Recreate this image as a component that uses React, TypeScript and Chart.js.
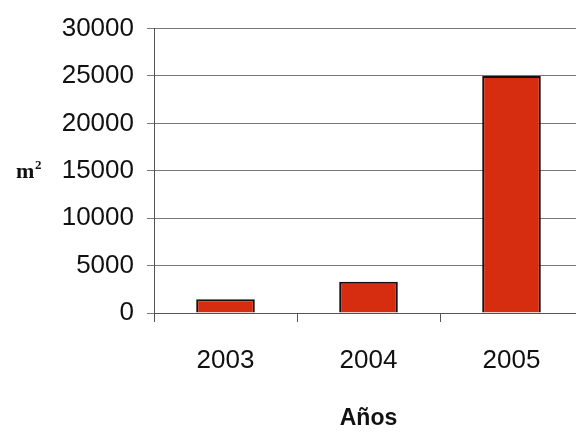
import React, { useEffect, useRef } from "react";
import { Chart, registerables } from "chart.js";

Chart.register(...registerables);

const categories = ["2003", "2004", "2005"];
const areaValues = [1450, 3300, 25000];
const yTickValues = [0, 5000, 10000, 15000, 20000, 25000, 30000];

const TICK_FONT = '"Liberation Sans", Arial, sans-serif';

const unitLabelPlugin = {
  id: "unitLabel",
  afterDraw(chart: any) {
    const ctx = chart.ctx;
    ctx.save();
    ctx.fillStyle = "#111";
    ctx.font = 'bold 22px "Liberation Serif", "Times New Roman", serif';
    ctx.textAlign = "left";
    ctx.textBaseline = "alphabetic";
    ctx.fillText("m", 16, 178);
    ctx.font = 'bold 13px "Liberation Serif", "Times New Roman", serif';
    ctx.fillText("2", 35, 169);
    ctx.restore();
  },
};

export default function App() {
  const ref = useRef<HTMLCanvasElement>(null);
  useEffect(() => {
    if (!ref.current) return;
    const chart = new Chart(ref.current, {
      type: "bar",
      data: {
        labels: categories,
        datasets: [
          {
            data: areaValues,
            backgroundColor: "#d62c10",
            borderColor: "#111",
            borderWidth: 2,
            barPercentage: 0.41,
            categoryPercentage: 1,
          },
        ],
      },
      options: {
        responsive: false,
        animation: false,
        layout: { padding: { top: 9, right: 0, bottom: 0, left: 0 } },
        plugins: { legend: { display: false }, tooltip: { enabled: false } },
        scales: {
          x: {
            offset: true,
            grid: {
              offset: true,
              drawOnChartArea: false,
              drawTicks: true,
              tickLength: 9,
              color: "#555",
            },
            border: { color: "#555", width: 1 },
            ticks: {
              color: "#111",
              font: { family: TICK_FONT, size: 26 },
              padding: 23,
            },
            title: {
              display: true,
              text: "Años",
              color: "#111",
              font: { family: TICK_FONT, size: 23, weight: "bold" },
              padding: { top: 0, bottom: 2 },
            },
            afterFit: (scale: any) => {
              scale.height = 121;
            },
          },
          y: {
            min: 0,
            max: 30000,
            afterBuildTicks: (scale: any) => {
              scale.ticks = yTickValues.map((v) => ({ value: v }));
            },
            grid: {
              color: "#777",
              drawTicks: true,
              tickLength: 7,
            },
            border: { color: "#555", width: 1 },
            ticks: {
              color: "#111",
              font: { family: TICK_FONT, size: 26 },
              padding: 13,
              callback: (v: any) => String(v),
            },
            afterFit: (scale: any) => {
              scale.width = 154;
            },
          },
        },
      },
      plugins: [unitLabelPlugin],
    });
    return () => chart.destroy();
  }, []);
  return (
    <div
      style={{
        position: "fixed",
        left: 0,
        top: 0,
        width: 576,
        height: 434,
        overflow: "hidden",
        background: "#fff",
      }}
    >
      <canvas ref={ref} width={583} height={434} style={{ display: "block" }} />
    </div>
  );
}
